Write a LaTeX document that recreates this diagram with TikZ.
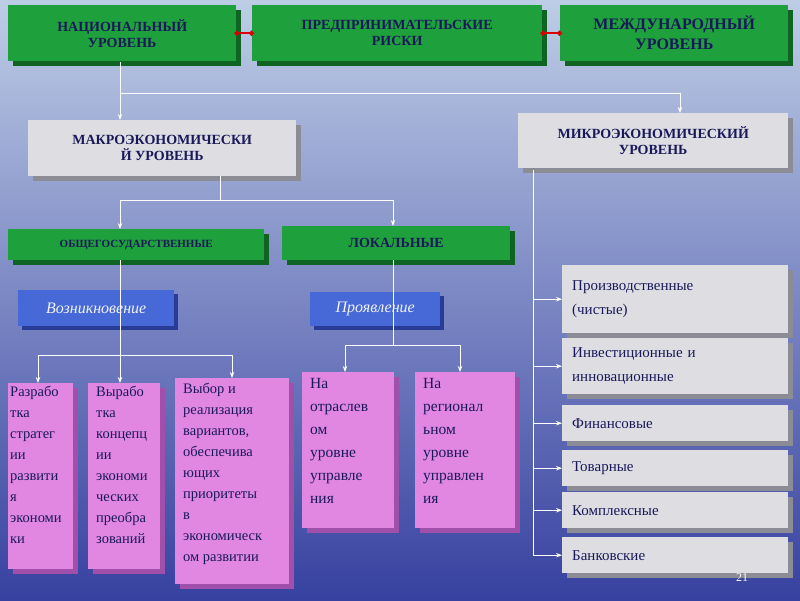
\documentclass[tikz,border=0pt]{standalone}
\usepackage{fontspec}
\setmainfont{Liberation Serif}
\usetikzlibrary{shadows,arrows.meta}
\definecolor{navy}{RGB}{25,25,90}
\definecolor{gr}{RGB}{30,160,60}
\definecolor{grd}{RGB}{15,100,35}
\definecolor{pk}{RGB}{225,135,225}
\definecolor{pkd}{RGB}{160,80,170}
\definecolor{bl}{RGB}{70,105,215}
\definecolor{bld}{RGB}{40,60,150}
\definecolor{gy}{RGB}{222,222,226}
\definecolor{gyd}{RGB}{140,140,150}
\tikzset{
 box/.style={anchor=north west,inner sep=4pt,font=\bfseries\fontsize{14}{16}\selectfont,text=navy,align=center},
 greenbox/.style={box,fill=gr,drop shadow={shadow xshift=5pt,shadow yshift=-5pt,fill=grd,opacity=1}},
 greybox/.style={box,fill=gy,drop shadow={shadow xshift=5pt,shadow yshift=-5pt,fill=gyd,opacity=1}},
 greyr/.style={greybox,font=\fontsize{15}{24}\selectfont,align=left,inner xsep=10pt},
 bluebox/.style={box,fill=bl,text=white!90!gray,font=\itshape\fontsize{16}{18}\selectfont,drop shadow={shadow xshift=4pt,shadow yshift=-4pt,fill=bld,opacity=1}},
 pinkbox/.style={anchor=north west,fill=pk,inner sep=0pt,drop shadow={shadow xshift=5pt,shadow yshift=-5pt,fill=pkd,opacity=1}},
 pinktext/.style={anchor=north west,text=navy,align=left,inner sep=2pt,font=\fontsize{14.5}{21}\selectfont},
 pinkbig/.style={pinktext,font=\fontsize{15.5}{23}\selectfont},
 wl/.style={white,line width=0.9pt},
 wa/.style={wl,-{Stealth[length=6pt]}},
 rl/.style={red!85!black,line width=1.5pt,{Circle[length=5pt]}-{Circle[length=5pt]}},
}
\begin{document}
\begin{tikzpicture}[x=1pt,y=-1pt]
\useasboundingbox (0,0) rectangle (800,600);
\shade[top color={rgb,255:red,190;green,205;blue,230},middle color={rgb,255:red,95;green,115;blue,205},bottom color={rgb,255:red,55;green,65;blue,160}] (0,0) rectangle (800,600);
% top row
\node[greenbox,minimum width=228pt,minimum height=56pt] (nat) at (8,5) {НАЦИОНАЛЬНЫЙ\\УРОВЕНЬ};
\node[greenbox,minimum width=290pt,minimum height=56pt] (risk) at (252,5) {ПРЕДПРИНИМАТЕЛЬСКИЕ\\РИСКИ};
\node[greenbox,minimum width=228pt,minimum height=56pt,font=\bfseries\fontsize{16}{20}\selectfont] (int) at (560,5) {МЕЖДУНАРОДНЫЙ\\УРОВЕНЬ};
\draw[rl] ([xshift=-2pt]nat.east) -- ([xshift=2pt]risk.west);
\draw[rl] ([xshift=-2pt]risk.east) -- ([xshift=2pt]int.west);
% level 2
\node[greybox,minimum width=268pt,minimum height=56pt] (macro) at (28,120) {МАКРОЭКОНОМИЧЕСКИ\\Й УРОВЕНЬ};
\node[greybox,minimum width=270pt,minimum height=55pt] (micro) at (518,113) {МИКРОЭКОНОМИЧЕСКИЙ\\УРОВЕНЬ};
\coordinate (j1) at (120,93);
\draw[wl] (120,62) -- (j1) -- (680,93);
\draw[wa] (680,93) -- (680,113);
\draw[wa] (j1) -- (120,120);
% level 3
\node[greenbox,minimum width=256pt,minimum height=31pt,font=\bfseries\fontsize{11}{13}\selectfont] (obs) at (8,229) {ОБЩЕГОСУДАРСТВЕННЫЕ};
\node[greenbox,minimum width=228pt,minimum height=34pt] (loc) at (282,226) {ЛОКАЛЬНЫЕ};
\draw[wl] (220,176) -- (220,200);
\draw[wl] (120,200) -- (393,200);
\draw[wa] (120,200) -- (120,229);
\draw[wa] (393,200) -- (393,226);
\node[bluebox,minimum width=156pt,minimum height=36pt] (voz) at (18,290) {Возникновение};
\node[bluebox,minimum width=130pt,minimum height=34pt] (pro) at (310,292) {Проявление};
\draw[wl] (120,260) -- (120,355);
\draw[wl] (38,355) -- (232,355);
\draw[wl] (393,260) -- (393,345);
\draw[wl] (345,345) -- (460,345);
% pink
\node[pinkbox,minimum width=65pt,minimum height=186pt] (p1) at (8,383) {};
\node[pinkbox,minimum width=72pt,minimum height=186pt] (p2) at (88,383) {};
\node[pinkbox,minimum width=114pt,minimum height=206pt] (p3) at (175,378) {};
\node[pinkbox,minimum width=92pt,minimum height=156pt] (p4) at (302,372) {};
\node[pinkbox,minimum width=100pt,minimum height=156pt] (p5) at (415,372) {};
\node[pinktext] (t1) at ([yshift=-1pt]p1.north west) {Разрабо\\тка\\стратег\\ии\\развити\\я\\экономи\\ки};
\node[pinktext] (t2) at ([xshift=6pt,yshift=-1pt]p2.north west) {Вырабо\\тка\\концепц\\ии\\экономи\\ческих\\преобра\\зований};
\node[pinktext] (t3) at ([xshift=6pt,yshift=-3pt]p3.north west) {Выбор и\\реализация\\вариантов,\\обеспечива\\ющих\\приоритеты\\в\\экономическ\\ом развитии};
\node[pinkbig] (t4) at ([xshift=6pt,yshift=-4pt]p4.north west) {На\\отраслев\\ом\\уровне\\управле\\ния};
\node[pinkbig] (t5) at ([xshift=6pt,yshift=-4pt]p5.north west) {На\\регионал\\ьном\\уровне\\управлен\\ия};
\draw[wa] (38,355) -- (38,383);
\draw[wa] (120,355) -- (120,383);
\draw[wa] (232,355) -- (232,378);
\draw[wa] (345,345) -- (345,372);
\draw[wa] (460,345) -- (460,372);
% micro list
\node[greyr,minimum width=226pt,minimum height=68pt,text width=206pt] (r1) at (562,265) {Производственные\\(чистые)};
\node[greyr,minimum width=226pt,minimum height=56pt,text width=206pt] (r2) at (562,338) {Инвестиционные и\\инновационные};
\node[greyr,minimum width=226pt,minimum height=36pt,text width=206pt] (r3) at (562,405) {Финансовые};
\node[greyr,minimum width=226pt,minimum height=36pt,text width=206pt] (r4) at (562,450) {Товарные};
\node[greyr,minimum width=226pt,minimum height=36pt,text width=206pt] (r5) at (562,492) {Комплексные};
\node[greyr,minimum width=226pt,minimum height=36pt,text width=206pt] (r6) at (562,537) {Банковские};
\draw[wl] (533,170) -- (533,556);
\foreach \r in {r1,r2,r3,r4,r5,r6}{\draw[wa] (\r.west -| 533,0) -- (\r.west);}
\node[text=white,font=\fontsize{12}{12}\selectfont] (pg) at (742,578) {21};
\end{tikzpicture}
\end{document}
